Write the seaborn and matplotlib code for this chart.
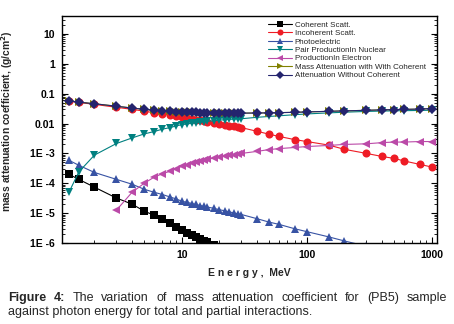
import numpy as np
import pandas as pd
import matplotlib
matplotlib.use("Agg")
import matplotlib.pyplot as plt
import matplotlib.ticker as mticker
import seaborn as sns

sns.set_theme(style="white")
plt.rcParams['font.family'] = ['Liberation Sans', 'DejaVu Sans']

energy = [1.25, 1.5, 2, 3, 4, 5, 6, 7, 8, 9, 10, 11, 12, 13, 14, 15, 16, 18, 20,
          22, 24, 26, 28, 30, 40, 50, 60, 80, 100, 150, 200, 300, 400, 500, 600, 800, 1000]

coherent = [2.0e-4, 1.35e-4, 7.4e-5, 3.2e-5, 2.0e-5, 1.17e-5, 8.5e-6, 6.3e-6, 4.7e-6, 3.4e-6,
            2.7e-6, 2.2e-6, 1.9e-6, 1.6e-6, 1.4e-6, 1.2e-6, 1.05e-6, 8.4e-7, 6.8e-7,
            5.6e-7, 4.7e-7, 4.0e-7, 3.5e-7, 3.0e-7, 1.7e-7, 1.1e-7, 7.6e-8, 4.3e-8, 2.7e-8,
            1.2e-8, 6.8e-9, 3.0e-9, 1.7e-9, 1.1e-9, 7.6e-10, 4.3e-10, 2.7e-10]

incoherent = [0.056, 0.051, 0.044, 0.035, 0.030, 0.026, 0.023, 0.021, 0.019, 0.0175,
              0.016, 0.0152, 0.0143, 0.0135, 0.0128, 0.0122, 0.0116, 0.0106, 0.0098,
              0.0092, 0.0086, 0.0081, 0.0077, 0.0073, 0.0055, 0.0044, 0.0037, 0.0029, 0.0025,
              0.0019, 0.00137, 0.001, 0.00079, 0.00068, 0.00056, 0.00043, 0.00035]

photoelectric = [5.9e-4, 4.0e-4, 2.3e-4, 1.35e-4, 9.3e-5, 6.3e-5, 5.0e-5, 4.2e-5, 3.5e-5, 3.0e-5,
                 2.5e-5, 2.3e-5, 2.1e-5, 1.95e-5, 1.8e-5, 1.7e-5, 1.6e-5, 1.45e-5, 1.3e-5,
                 1.2e-5, 1.1e-5, 1.02e-5, 9.5e-6, 9.0e-6, 6.5e-6, 5.0e-6, 4.2e-6, 3.0e-6, 2.4e-6,
                 1.6e-6, 1.17e-6, 7.8e-7, 5.9e-7, 4.7e-7, 3.9e-7, 2.9e-7, 2.3e-7]

pair_nuclear = [5.0e-5, 2.4e-4, 8.8e-4, 2.15e-3, 3.3e-3, 4.5e-3, 5.4e-3, 6.5e-3, 7.3e-3, 8.3e-3,
                9.2e-3, 9.7e-3, 0.0102, 0.0107, 0.0111, 0.0115, 0.0119, 0.0125, 0.013,
                0.0134, 0.0138, 0.0141, 0.0143, 0.0145, 0.0162, 0.0173, 0.0182, 0.0198, 0.021,
                0.0228, 0.024, 0.0255, 0.0262, 0.0267, 0.027, 0.0275, 0.028]

pair_electron = [np.nan, np.nan, np.nan, 1.26e-5, 5.0e-5, 1.0e-4, 1.6e-4, 2.1e-4, 2.5e-4, 3.1e-4,
                 3.7e-4, 4.2e-4, 4.7e-4, 5.1e-4, 5.5e-4, 5.9e-4, 6.3e-4, 7.0e-4, 7.6e-4,
                 8.2e-4, 8.7e-4, 9.1e-4, 9.6e-4, 1.0e-3, 1.17e-3, 1.35e-3, 1.45e-3, 1.58e-3, 1.7e-3,
                 1.85e-3, 2.0e-3, 2.1e-3, 2.3e-3, 2.4e-3, 2.4e-3, 2.5e-3, 2.5e-3]

total_with_coh = [0.0585, 0.0522, 0.0462, 0.0381, 0.0331, 0.0301, 0.0281, 0.0271, 0.0261, 0.0251,
                  0.0246, 0.0241, 0.0238, 0.0236, 0.0233, 0.0231, 0.0230, 0.0228, 0.0226,
                  0.0225, 0.0224, 0.0224, 0.0223, 0.0223, 0.0226, 0.0228, 0.0232, 0.0238, 0.0245,
                  0.0257, 0.0266, 0.0278, 0.0287, 0.0293, 0.0298, 0.0306, 0.0318]

total_without_coh = [0.058, 0.052, 0.046, 0.038, 0.033, 0.030, 0.028, 0.027, 0.026, 0.025,
                     0.0245, 0.024, 0.0237, 0.0235, 0.0232, 0.023, 0.0229, 0.0227, 0.0225,
                     0.0224, 0.0224, 0.0223, 0.0223, 0.0223, 0.0226, 0.0228, 0.0232, 0.0238, 0.0245,
                     0.0257, 0.0266, 0.0278, 0.0287, 0.0293, 0.0298, 0.0306, 0.0318]

labels = ["Coherent Scatt.", "Incoherent Scatt.", "Photoelectric",
          "Pair ProductionIn Nuclear", "ProductionIn Electron",
          "Mass Attenuation with With Coherent", "Attenuation Without Coherent"]

ytick_vals = [1e-6, 1e-5, 1e-4, 1e-3, 1e-2, 1e-1, 1, 10]
ytick_labels = ["1E -6", "1E -5", "1E -4", "1E -3", "0.01", "0.1", "1", "10"]
xtick_vals = [10, 100, 1000]
xtick_labels = ["10", "100", "1000"]

series = [coherent, incoherent, photoelectric, pair_nuclear, pair_electron,
          total_with_coh, total_without_coh]
colors = ["#000000", "#ee1c25", "#3853a4", "#008080", "#bb4aa8", "#808000", "#24246e"]
markers = ["s", "o", "^", "v", "<", ">", "D"]
msizes = [5.8, 5.8, 6.3, 6.3, 6.3, 6.3, 5.5]

fig = plt.figure(figsize=(4.54, 3.24), dpi=100)
ax = fig.add_axes([62/454, 1-243/324, 375/454, 227/324])

for vals, lab, c, m, ms in zip(series, labels, colors, markers, msizes):
    df = pd.DataFrame({"E": energy, "mu": vals}).dropna()
    sns.lineplot(data=df, x="E", y="mu", ax=ax, color=c, marker=m, markersize=ms,
                 markeredgewidth=0, linewidth=0.8, label=lab)

ax.set_xscale("log")
ax.set_yscale("log")
ax.set_xlim(1.1, 1100)
ax.set_ylim(1e-6, 40)

ax.yaxis.set_major_locator(mticker.FixedLocator(ytick_vals))
ax.yaxis.set_major_formatter(mticker.FixedFormatter(ytick_labels))
ax.yaxis.set_minor_locator(mticker.LogLocator(base=10, subs=np.arange(2, 10), numticks=20))
ax.yaxis.set_minor_formatter(mticker.NullFormatter())
ax.xaxis.set_major_locator(mticker.FixedLocator(xtick_vals))
ax.xaxis.set_major_formatter(mticker.FixedFormatter(xtick_labels))
ax.xaxis.set_minor_locator(mticker.LogLocator(base=10, subs=np.arange(2, 10), numticks=20))
ax.xaxis.set_minor_formatter(mticker.NullFormatter())

ax.tick_params(which="both", direction="in", left=True, right=True, bottom=True, top=False,
               colors="black", labelsize=7.5)
ax.tick_params(which="major", length=4, width=0.8, pad=5)
ax.tick_params(which="minor", length=2, width=0.6)
for lbl in ax.get_xticklabels() + ax.get_yticklabels():
    lbl.set_fontweight("bold")
for sp in ax.spines.values():
    sp.set_color("black")
    sp.set_linewidth(1.0)

ax.set_xlabel("E n e r g y ,  MeV", fontsize=7.5, fontweight="bold", labelpad=6)
ax.set_ylabel("mass attenuation coefficient, (g/cm$^{\\mathbf{2}}$)", fontsize=7.4,
              fontweight="bold")
ax.yaxis.set_label_coords(-0.125, 0.535)
ax.grid(False)

leg = ax.legend(loc="upper left", bbox_to_anchor=(0.545, 0.985), frameon=False,
                fontsize=5.8, handlelength=3.0, handletextpad=0.3, labelspacing=0.1,
                borderaxespad=0, borderpad=0.2, markerscale=0.75)

# caption with justified first line
fig.canvas.draw()
renderer = fig.canvas.get_renderer()
line1 = [("Figure", "bold"), ("4:", "bold"), ("The", "normal"), ("variation", "normal"),
         ("of", "normal"), ("mass", "normal"), ("attenuation", "normal"),
         ("coefficient", "normal"), ("for", "normal"), ("(PB5)", "normal"),
         ("sample", "normal")]
cap_fs = 9.0
x0, x1 = 8, 447
y1 = 324 - 301
texts = []
widths = []
for w, wt in line1:
    t = fig.text(0, 0, w, fontsize=cap_fs, fontweight=wt, va="baseline", ha="left")
    widths.append(t.get_window_extent(renderer).width)
    texts.append(t)
gap = (x1 - x0 - sum(widths)) / (len(line1) - 1)
xc = x0
for t, wdt in zip(texts, widths):
    t.set_position((xc / 454, y1 / 324))
    xc += wdt + gap
fig.text(8/454, (324-315)/324, "against photon energy for total and partial interactions.",
         fontsize=cap_fs, va="baseline", ha="left")

fig.savefig("out.png", dpi=100)
